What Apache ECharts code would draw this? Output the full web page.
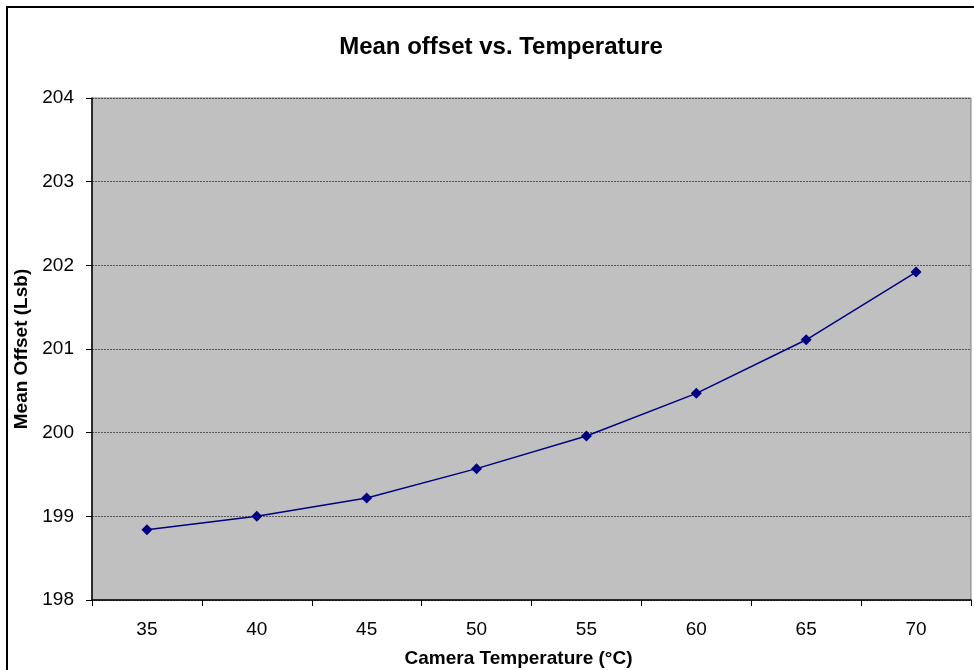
<!DOCTYPE html>
<html><head><meta charset="utf-8">
<script src="https://cdn.jsdelivr.net/npm/echarts@6/dist/echarts.min.js"></script>
<style>html,body{margin:0;padding:0;background:#fff}#c{width:974px;height:670px}</style>
</head><body><div id="c"></div>
<script>
const categories = ['35','40','45','50','55','60','65','70'];
const meanOffset = [198.84, 199.00, 199.22, 199.57, 199.96, 200.47, 201.11, 201.92];
const yTicks = [198, 204, 1];

const chart = echarts.init(document.getElementById('c'), null, {renderer:'canvas'});
chart.setOption({
  animation:false,
  backgroundColor:'#fff',
  title:{text:'Mean offset vs. Temperature', left:496, top:30, textAlign:'center',
    textStyle:{fontFamily:'Liberation Sans, Arial', fontSize:24, fontWeight:'bold', color:'#000'}},
  graphic:[{type:'rect', shape:{x:7,y:7,width:1000,height:700}, style:{fill:'none', stroke:'#000', lineWidth:2}, z:-1}],
  grid:{left:92, right:3, top:98, bottom:70, outerBoundsMode:'none', containLabel:false, show:true, backgroundColor:'#C0C0C0', borderColor:'#808080', borderWidth:1},
  xAxis:{type:'category', data:categories, boundaryGap:true,
    name:'Camera Temperature (°C)', nameLocation:'middle', nameGap:49,
    nameTextStyle:{fontFamily:'Liberation Sans, Arial', fontSize:19, fontWeight:'bold', color:'#000', padding:[0,26,0,0]},
    axisLine:{lineStyle:{color:'#000', width:1.5}},
    axisTick:{show:true, inside:false, length:6, alignWithLabel:false, lineStyle:{color:'#000'}},
    axisLabel:{margin:20, fontFamily:'Liberation Sans, Arial', fontSize:19, color:'#000'},
    splitLine:{show:false}},
  yAxis:{type:'value', min:yTicks[0], max:yTicks[1], interval:yTicks[2],
    name:'Mean Offset (Lsb)', nameLocation:'middle', nameGap:58,
    nameTextStyle:{fontFamily:'Liberation Sans, Arial', fontSize:19, fontWeight:'bold', color:'#000'},
    axisLine:{show:true, lineStyle:{color:'#000', width:1.5}},
    axisTick:{show:true, length:6, lineStyle:{color:'#000'}},
    axisLabel:{margin:18, fontFamily:'Liberation Sans, Arial', fontSize:19, color:'#000'},
    splitLine:{show:true, lineStyle:{color:'#555', width:1, type:[2,1]}}},
  series:[{type:'line', data:meanOffset, symbol:'diamond', symbolSize:11,
    lineStyle:{color:'#000080', width:1.5}, itemStyle:{color:'#000080'}}]
});
</script></body></html>
